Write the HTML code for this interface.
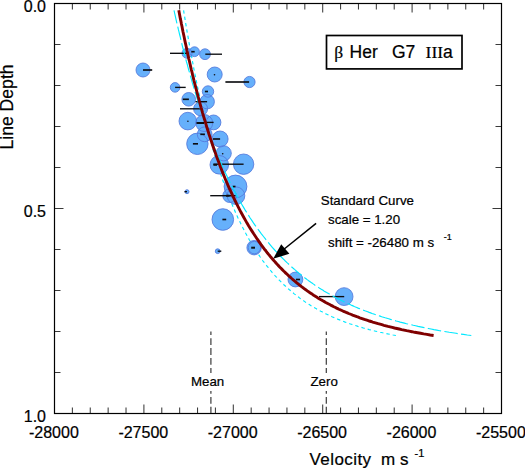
<!DOCTYPE html>
<html><head><meta charset="utf-8"><style>
html,body{margin:0;padding:0;background:#fff;}
svg{display:block;}
text{font-family:"Liberation Sans",sans-serif;fill:#000;stroke:#000;stroke-width:0.22px;}
</style></head><body>
<svg width="525" height="469" viewBox="0 0 525 469">
<rect width="525" height="469" fill="#fff"/>
<path d="M183.6,10.3 L184.0,13.0 L184.5,15.7 L184.9,18.4 L185.3,21.1 L185.8,23.8 L186.2,26.5 L186.7,29.2 L187.1,31.8 L187.6,34.5 L188.1,37.2 L188.5,39.9 L189.0,42.6 L189.5,45.3 L190.0,48.0 L190.5,50.7 L191.0,53.4 L191.5,56.1 L192.0,58.8 L192.5,61.5 L193.0,64.2 L193.5,66.9 L194.0,69.6 L194.6,72.2 L195.1,74.9 L195.7,77.6 L196.2,80.3 L196.8,83.0 L197.3,85.7 L197.9,88.4 L198.5,91.1 L199.1,93.8 L199.7,96.5 L200.3,99.2 L200.9,101.9 L201.5,104.6 L202.1,107.3 L202.7,110.0 L203.4,112.6 L204.0,115.3 L204.7,118.0 L205.3,120.7 L206.0,123.4 L206.7,126.1 L207.4,128.8 L208.1,131.5 L208.8,134.2 L209.5,136.9 L210.2,139.6 L211.0,142.3 L211.7,145.0 L212.5,147.7 L213.3,150.3 L214.1,153.0 L214.9,155.7 L215.7,158.4 L216.5,161.1 L217.4,163.8 L218.2,166.5 L219.1,169.2 L220.0,171.9 L220.9,174.6 L221.8,177.3 L222.7,180.0 L223.7,182.7 L224.6,185.4 L225.6,188.1 L226.6,190.7 L227.6,193.4 L228.7,196.1 L229.8,198.8 L230.8,201.5 L232.0,204.2 L233.1,206.9 L234.3,209.6 L235.4,212.3 L236.7,215.0 L237.9,217.7 L239.2,220.4 L240.5,223.1 L241.8,225.8 L243.2,228.5 L244.6,231.1 L246.0,233.8 L247.5,236.5 L249.0,239.2 L250.6,241.9 L252.2,244.6 L253.8,247.3 L255.6,250.0 L255.9,250.5 L256.2,251.1 L256.6,251.6 L257.0,252.2 L257.3,252.7 L257.7,253.2 L258.0,253.8 L258.4,254.3 L258.8,254.8 L259.1,255.4 L259.5,255.9 L259.9,256.5 L260.2,257.0 L260.6,257.5 L261.0,258.1 L261.4,258.6 L261.8,259.1 L262.2,259.7 L262.5,260.2 L262.9,260.8 L263.3,261.3 L263.7,261.8 L264.1,262.4 L264.5,262.9 L264.9,263.4 L265.4,264.0 L265.8,264.5 L266.2,265.1 L266.6,265.6 L267.0,266.1 L267.4,266.7 L267.9,267.2 L268.3,267.7 L268.7,268.3 L269.2,268.8 L269.6,269.4 L270.1,269.9 L270.5,270.4 L271.0,271.0 L271.4,271.5 L271.9,272.0 L272.3,272.6 L272.8,273.1 L273.3,273.7 L273.8,274.2 L274.2,274.7 L274.7,275.3 L275.2,275.8 L275.7,276.3 L276.2,276.9 L276.7,277.4 L277.2,278.0 L277.7,278.5 L278.2,279.0 L278.7,279.6 L279.2,280.1 L279.8,280.7 L280.3,281.2 L280.8,281.7 L281.4,282.3 L281.9,282.8 L282.4,283.3 L283.0,283.9 L283.6,284.4 L284.1,285.0 L284.7,285.5 L285.3,286.0 L285.8,286.6 L286.4,287.1 L287.0,287.6 L287.6,288.2 L288.2,288.7 L288.8,289.3 L289.4,289.8 L290.1,290.3 L290.7,290.9 L291.3,291.4 L292.0,291.9 L292.6,292.5 L293.3,293.0 L293.9,293.6 L294.6,294.1 L295.3,294.6 L296.0,295.2 L296.7,295.7 L297.4,296.2 L298.1,296.8 L298.8,297.3 L299.5,297.9 L300.2,298.4 L301.0,298.9 L301.7,299.5 L302.5,300.0 L303.2,300.5 L304.0,301.1 L304.8,301.6 L305.6,302.2 L306.4,302.7 L307.2,303.2 L308.1,303.8 L308.9,304.3 L309.7,304.8 L310.6,305.4 L311.5,305.9 L312.4,306.5 L313.3,307.0 L314.2,307.5 L315.1,308.1 L316.0,308.6 L317.0,309.2 L318.0,309.7 L318.9,310.2 L319.9,310.8 L320.9,311.3 L322.0,311.8 L323.0,312.4 L324.1,312.9 L325.1,313.5 L326.2,314.0 L327.3,314.5 L328.5,315.1 L329.6,315.6 L330.8,316.1 L332.0,316.7 L333.2,317.2 L334.4,317.8 L335.7,318.3 L337.0,318.8 L338.3,319.4 L339.6,319.9 L340.9,320.4 L342.3,321.0 L343.7,321.5 L345.2,322.1 L346.7,322.6 L348.2,323.1 L349.7,323.7 L351.3,324.2 L352.9,324.7 L354.5,325.3 L356.2,325.8 L357.9,326.4 L359.7,326.9 L361.5,327.4 L363.4,328.0 L365.3,328.5 L367.2,329.0 L369.2,329.6 L371.3,330.1 L373.4,330.7 L375.6,331.2 L377.9,331.7 L380.2,332.3 L382.6,332.8 L385.1,333.3 L387.7,333.9 L390.3,334.4 L393.1,335.0 L395.9,335.5" fill="none" stroke="#00e8ff" stroke-width="1.15" stroke-dasharray="3.4 3.04"/>
<g fill="#66b0fb" stroke="none">
<circle cx="143" cy="70" r="7"/><circle cx="187" cy="53.3" r="5"/><circle cx="194.5" cy="51.7" r="4.9"/><circle cx="205" cy="54.2" r="5.4"/><circle cx="214.7" cy="74.5" r="7.5"/><circle cx="249.5" cy="82" r="5.6"/><circle cx="175.1" cy="87.4" r="4.8"/><circle cx="188.7" cy="99.3" r="6.8"/><circle cx="207.2" cy="101.7" r="7.2"/><circle cx="208" cy="91.5" r="5.7"/><circle cx="200.6" cy="108.8" r="7"/><circle cx="187.8" cy="121.1" r="8.8"/><circle cx="213.5" cy="122.4" r="7.4"/><circle cx="204.2" cy="123" r="8.5"/><circle cx="220.1" cy="139" r="8"/><circle cx="204.7" cy="134.3" r="7.4"/><circle cx="197.4" cy="143.8" r="10.7"/><circle cx="223.7" cy="153.3" r="7.6"/><circle cx="243.6" cy="164.2" r="10.2"/><circle cx="219.3" cy="164.8" r="9.3"/><circle cx="187" cy="191.7" r="2"/><circle cx="235.5" cy="186.5" r="11.4"/><circle cx="236" cy="195.7" r="8.8"/><circle cx="229.6" cy="195.7" r="6.8"/><circle cx="222.8" cy="219.5" r="10.8"/><circle cx="217.7" cy="251.2" r="2.4"/><circle cx="254.1" cy="247.7" r="7.2"/><circle cx="254.4" cy="247.6" r="6.2"/><circle cx="295.4" cy="279.5" r="7.4"/><circle cx="344.1" cy="296.6" r="8.9"/>
</g>
<g fill="none" stroke="#5478dc" stroke-width="0.85">
<circle cx="143" cy="70" r="7"/><circle cx="187" cy="53.3" r="5"/><circle cx="194.5" cy="51.7" r="4.9"/><circle cx="205" cy="54.2" r="5.4"/><circle cx="214.7" cy="74.5" r="7.5"/><circle cx="249.5" cy="82" r="5.6"/><circle cx="175.1" cy="87.4" r="4.8"/><circle cx="188.7" cy="99.3" r="6.8"/><circle cx="207.2" cy="101.7" r="7.2"/><circle cx="208" cy="91.5" r="5.7"/><circle cx="200.6" cy="108.8" r="7"/><circle cx="187.8" cy="121.1" r="8.8"/><circle cx="213.5" cy="122.4" r="7.4"/><circle cx="204.2" cy="123" r="8.5"/><circle cx="220.1" cy="139" r="8"/><circle cx="204.7" cy="134.3" r="7.4"/><circle cx="197.4" cy="143.8" r="10.7"/><circle cx="223.7" cy="153.3" r="7.6"/><circle cx="243.6" cy="164.2" r="10.2"/><circle cx="219.3" cy="164.8" r="9.3"/><circle cx="187" cy="191.7" r="2"/><circle cx="235.5" cy="186.5" r="11.4"/><circle cx="236" cy="195.7" r="8.8"/><circle cx="229.6" cy="195.7" r="6.8"/><circle cx="222.8" cy="219.5" r="10.8"/><circle cx="217.7" cy="251.2" r="2.4"/><circle cx="254.1" cy="247.7" r="7.2"/><circle cx="254.4" cy="247.6" r="6.2"/><circle cx="295.4" cy="279.5" r="7.4"/><circle cx="344.1" cy="296.6" r="8.9"/>
</g>
<g stroke="#0c0d10" stroke-linecap="butt">
<line x1="143" y1="70" x2="152.2" y2="70" stroke-width="1.65"/><line x1="170" y1="53.3" x2="187" y2="53.3" stroke-width="1.35"/><line x1="191.3" y1="51.7" x2="194.7" y2="51.7" stroke-width="1.65"/><line x1="205.3" y1="54.2" x2="222" y2="54.2" stroke-width="1.35"/><line x1="225.4" y1="82" x2="249.1" y2="82" stroke-width="1.65"/><line x1="175.1" y1="87.4" x2="185.7" y2="87.4" stroke-width="1.35"/><line x1="182.8" y1="99.3" x2="188.9" y2="99.3" stroke-width="1.65"/><line x1="195.4" y1="101.7" x2="207.1" y2="101.7" stroke-width="1.35"/><line x1="204.9" y1="91.5" x2="208" y2="91.5" stroke-width="1.65"/><line x1="180" y1="108.8" x2="200.3" y2="108.8" stroke-width="1.35"/><line x1="204.1" y1="122.4" x2="213.6" y2="122.4" stroke-width="1.35"/><line x1="196.5" y1="123" x2="204.1" y2="123" stroke-width="2.00"/><line x1="212.9" y1="139" x2="220.1" y2="139" stroke-width="1.65"/><line x1="200.3" y1="134.3" x2="204.9" y2="134.3" stroke-width="1.65"/><line x1="192.9" y1="143.8" x2="198" y2="143.8" stroke-width="1.65"/><line x1="213.4" y1="164.2" x2="243.6" y2="164.2" stroke-width="1.35"/><line x1="213.4" y1="164.8" x2="217" y2="164.8" stroke-width="2.00"/><line x1="184.5" y1="191.7" x2="187" y2="191.7" stroke-width="1.35"/><line x1="232.6" y1="186.5" x2="235.5" y2="186.5" stroke-width="1.65"/><line x1="210.2" y1="195.7" x2="235.5" y2="195.7" stroke-width="1.35"/><line x1="226" y1="195.7" x2="229.6" y2="195.7" stroke-width="2.00"/><line x1="222.4" y1="219.5" x2="226.2" y2="219.5" stroke-width="1.65"/><line x1="217.7" y1="251.2" x2="221.3" y2="251.2" stroke-width="1.35"/><line x1="251.2" y1="247.7" x2="255" y2="247.7" stroke-width="2.00"/><line x1="296" y1="279.5" x2="300" y2="279.5" stroke-width="1.65"/><line x1="319" y1="296.6" x2="344.2" y2="296.6" stroke-width="1.35"/><circle cx="214.5" cy="74.7" r="0.8" fill="#111" stroke="none"/><circle cx="187.9" cy="121.2" r="0.8" fill="#111" stroke="none"/><circle cx="222.7" cy="153.7" r="0.8" fill="#111" stroke="none"/>
</g>
<path d="M174.0,10.3 L174.6,13.0 L175.2,15.7 L175.8,18.4 L176.4,21.1 L177.0,23.8 L177.7,26.5 L178.3,29.2 L179.0,31.8 L179.6,34.5 L180.3,37.2 L180.9,39.9 L181.6,42.6 L182.2,45.3 L182.9,48.0 L183.6,50.7 L184.3,53.4 L185.0,56.1 L185.7,58.8 L186.4,61.5 L187.2,64.2 L187.9,66.9 L188.6,69.6 L189.4,72.2 L190.1,74.9 L190.9,77.6 L191.7,80.3 L192.4,83.0 L193.2,85.7 L194.0,88.4 L194.8,91.1 L195.7,93.8 L196.5,96.5 L197.3,99.2 L198.2,101.9 L199.0,104.6 L199.9,107.3 L200.8,110.0 L201.7,112.6 L202.6,115.3 L203.5,118.0 L204.4,120.7 L205.4,123.4 L206.3,126.1 L207.3,128.8 L208.3,131.5 L209.3,134.2 L210.3,136.9 L211.3,139.6 L212.3,142.3 L213.4,145.0 L214.5,147.7 L215.6,150.3 L216.7,153.0 L217.8,155.7 L218.9,158.4 L220.1,161.1 L221.3,163.8 L222.5,166.5 L223.7,169.2 L224.9,171.9 L226.2,174.6 L227.5,177.3 L228.8,180.0 L230.1,182.7 L231.4,185.4 L232.8,188.1 L234.2,190.7 L235.7,193.4 L237.1,196.1 L238.6,198.8 L240.1,201.5 L241.7,204.2 L243.3,206.9 L244.9,209.6 L246.6,212.3 L248.3,215.0 L250.0,217.7 L251.8,220.4 L253.6,223.1 L255.5,225.8 L257.4,228.5 L259.4,231.1 L261.4,233.8 L263.5,236.5 L265.6,239.2 L267.8,241.9 L270.0,244.6 L272.3,247.3 L274.7,250.0 L275.2,250.5 L275.7,251.1 L276.2,251.6 L276.7,252.2 L277.2,252.7 L277.7,253.2 L278.2,253.8 L278.7,254.3 L279.2,254.8 L279.7,255.4 L280.2,255.9 L280.8,256.5 L281.3,257.0 L281.8,257.5 L282.4,258.1 L282.9,258.6 L283.4,259.1 L284.0,259.7 L284.5,260.2 L285.1,260.8 L285.6,261.3 L286.2,261.8 L286.7,262.4 L287.3,262.9 L287.9,263.4 L288.5,264.0 L289.0,264.5 L289.6,265.1 L290.2,265.6 L290.8,266.1 L291.4,266.7 L292.0,267.2 L292.6,267.7 L293.2,268.3 L293.8,268.8 L294.4,269.4 L295.1,269.9 L295.7,270.4 L296.3,271.0 L296.9,271.5 L297.6,272.0 L298.2,272.6 L298.9,273.1 L299.5,273.7 L300.2,274.2 L300.9,274.7 L301.6,275.3 L302.2,275.8 L302.9,276.3 L303.6,276.9 L304.3,277.4 L305.0,278.0 L305.7,278.5 L306.4,279.0 L307.2,279.6 L307.9,280.1 L308.6,280.7 L309.4,281.2 L310.1,281.7 L310.9,282.3 L311.6,282.8 L312.4,283.3 L313.2,283.9 L313.9,284.4 L314.7,285.0 L315.5,285.5 L316.3,286.0 L317.1,286.6 L318.0,287.1 L318.8,287.6 L319.6,288.2 L320.5,288.7 L321.3,289.3 L322.2,289.8 L323.1,290.3 L323.9,290.9 L324.8,291.4 L325.7,291.9 L326.6,292.5 L327.5,293.0 L328.5,293.6 L329.4,294.1 L330.3,294.6 L331.3,295.2 L332.3,295.7 L333.3,296.2 L334.2,296.8 L335.2,297.3 L336.3,297.9 L337.3,298.4 L338.3,298.9 L339.4,299.5 L340.4,300.0 L341.5,300.5 L342.6,301.1 L343.7,301.6 L344.8,302.2 L345.9,302.7 L347.1,303.2 L348.2,303.8 L349.4,304.3 L350.6,304.8 L351.8,305.4 L353.0,305.9 L354.3,306.5 L355.5,307.0 L356.8,307.5 L358.1,308.1 L359.4,308.6 L360.7,309.2 L362.1,309.7 L363.5,310.2 L364.9,310.8 L366.3,311.3 L367.7,311.8 L369.2,312.4 L370.6,312.9 L372.1,313.5 L373.7,314.0 L375.2,314.5 L376.8,315.1 L378.4,315.6 L380.1,316.1 L381.7,316.7 L383.4,317.2 L385.2,317.8 L386.9,318.3 L388.7,318.8 L390.5,319.4 L392.4,319.9 L394.3,320.4 L396.2,321.0 L398.2,321.5 L400.2,322.1 L402.3,322.6 L404.4,323.1 L406.5,323.7 L408.7,324.2 L411.0,324.7 L413.3,325.3 L415.6,325.8 L418.1,326.4 L420.5,326.9 L423.1,327.4 L425.7,328.0 L428.3,328.5 L431.1,329.0 L433.9,329.6 L436.8,330.1 L439.8,330.7 L442.8,331.2 L446.0,331.7 L449.3,332.3 L452.6,332.8 L456.1,333.3 L459.7,333.9 L463.4,334.4 L467.3,335.0 L471.3,335.5" fill="none" stroke="#00e8ff" stroke-width="1.15" stroke-dasharray="13.5 3.35"/>
<path d="M178.8,10.3 L179.3,13.0 L179.8,15.7 L180.3,18.4 L180.9,21.1 L181.4,23.8 L182.0,26.5 L182.5,29.2 L183.0,31.8 L183.6,34.5 L184.2,37.2 L184.7,39.9 L185.3,42.6 L185.9,45.3 L186.5,48.0 L187.0,50.7 L187.6,53.4 L188.2,56.1 L188.8,58.8 L189.5,61.5 L190.1,64.2 L190.7,66.9 L191.3,69.6 L192.0,72.2 L192.6,74.9 L193.3,77.6 L193.9,80.3 L194.6,83.0 L195.3,85.7 L196.0,88.4 L196.7,91.1 L197.4,93.8 L198.1,96.5 L198.8,99.2 L199.5,101.9 L200.3,104.6 L201.0,107.3 L201.8,110.0 L202.5,112.6 L203.3,115.3 L204.1,118.0 L204.9,120.7 L205.7,123.4 L206.5,126.1 L207.3,128.8 L208.2,131.5 L209.0,134.2 L209.9,136.9 L210.8,139.6 L211.7,142.3 L212.6,145.0 L213.5,147.7 L214.4,150.3 L215.4,153.0 L216.3,155.7 L217.3,158.4 L218.3,161.1 L219.3,163.8 L220.3,166.5 L221.4,169.2 L222.4,171.9 L223.5,174.6 L224.6,177.3 L225.7,180.0 L226.9,182.7 L228.0,185.4 L229.2,188.1 L230.4,190.7 L231.7,193.4 L232.9,196.1 L234.2,198.8 L235.5,201.5 L236.8,204.2 L238.2,206.9 L239.6,209.6 L241.0,212.3 L242.5,215.0 L244.0,217.7 L245.5,220.4 L247.0,223.1 L248.6,225.8 L250.3,228.5 L252.0,231.1 L253.7,233.8 L255.5,236.5 L257.3,239.2 L259.2,241.9 L261.1,244.6 L263.1,247.3 L265.1,250.0 L265.6,250.5 L266.0,251.1 L266.4,251.6 L266.8,252.2 L267.2,252.7 L267.7,253.2 L268.1,253.8 L268.5,254.3 L269.0,254.8 L269.4,255.4 L269.9,255.9 L270.3,256.5 L270.8,257.0 L271.2,257.5 L271.7,258.1 L272.1,258.6 L272.6,259.1 L273.1,259.7 L273.5,260.2 L274.0,260.8 L274.5,261.3 L275.0,261.8 L275.4,262.4 L275.9,262.9 L276.4,263.4 L276.9,264.0 L277.4,264.5 L277.9,265.1 L278.4,265.6 L278.9,266.1 L279.4,266.7 L279.9,267.2 L280.4,267.7 L281.0,268.3 L281.5,268.8 L282.0,269.4 L282.6,269.9 L283.1,270.4 L283.6,271.0 L284.2,271.5 L284.7,272.0 L285.3,272.6 L285.8,273.1 L286.4,273.7 L287.0,274.2 L287.6,274.7 L288.1,275.3 L288.7,275.8 L289.3,276.3 L289.9,276.9 L290.5,277.4 L291.1,278.0 L291.7,278.5 L292.3,279.0 L292.9,279.6 L293.6,280.1 L294.2,280.7 L294.8,281.2 L295.5,281.7 L296.1,282.3 L296.8,282.8 L297.4,283.3 L298.1,283.9 L298.7,284.4 L299.4,285.0 L300.1,285.5 L300.8,286.0 L301.5,286.6 L302.2,287.1 L302.9,287.6 L303.6,288.2 L304.3,288.7 L305.1,289.3 L305.8,289.8 L306.6,290.3 L307.3,290.9 L308.1,291.4 L308.8,291.9 L309.6,292.5 L310.4,293.0 L311.2,293.6 L312.0,294.1 L312.8,294.6 L313.6,295.2 L314.5,295.7 L315.3,296.2 L316.2,296.8 L317.0,297.3 L317.9,297.9 L318.8,298.4 L319.6,298.9 L320.5,299.5 L321.5,300.0 L322.4,300.5 L323.3,301.1 L324.3,301.6 L325.2,302.2 L326.2,302.7 L327.2,303.2 L328.2,303.8 L329.2,304.3 L330.2,304.8 L331.2,305.4 L332.3,305.9 L333.3,306.5 L334.4,307.0 L335.5,307.5 L336.6,308.1 L337.7,308.6 L338.9,309.2 L340.0,309.7 L341.2,310.2 L342.4,310.8 L343.6,311.3 L344.8,311.8 L346.1,312.4 L347.4,312.9 L348.6,313.5 L350.0,314.0 L351.3,314.5 L352.6,315.1 L354.0,315.6 L355.4,316.1 L356.9,316.7 L358.3,317.2 L359.8,317.8 L361.3,318.3 L362.8,318.8 L364.4,319.4 L366.0,319.9 L367.6,320.4 L369.3,321.0 L371.0,321.5 L372.7,322.1 L374.5,322.6 L376.3,323.1 L378.1,323.7 L380.0,324.2 L381.9,324.7 L383.9,325.3 L385.9,325.8 L388.0,326.4 L390.1,326.9 L392.3,327.4 L394.5,328.0 L396.8,328.5 L399.2,329.0 L401.6,329.6 L404.1,330.1 L406.6,330.7 L409.2,331.2 L411.9,331.7 L414.7,332.3 L417.6,332.8 L420.6,333.3 L423.7,333.9 L426.9,334.4 L430.2,335.0 L433.6,335.5" fill="none" stroke="#800000" stroke-width="2.9"/>
<g stroke="#3a3a3a" stroke-width="1.05">
<line x1="54.50" y1="413.5" x2="54.50" y2="404.5"/><line x1="54.50" y1="3.5" x2="54.50" y2="12.5"/><line x1="72.38" y1="413.5" x2="72.38" y2="407.5"/><line x1="72.38" y1="3.5" x2="72.38" y2="9.5"/><line x1="90.26" y1="413.5" x2="90.26" y2="407.5"/><line x1="90.26" y1="3.5" x2="90.26" y2="9.5"/><line x1="108.14" y1="413.5" x2="108.14" y2="407.5"/><line x1="108.14" y1="3.5" x2="108.14" y2="9.5"/><line x1="126.02" y1="413.5" x2="126.02" y2="407.5"/><line x1="126.02" y1="3.5" x2="126.02" y2="9.5"/><line x1="143.90" y1="413.5" x2="143.90" y2="404.5"/><line x1="143.90" y1="3.5" x2="143.90" y2="12.5"/><line x1="161.78" y1="413.5" x2="161.78" y2="407.5"/><line x1="161.78" y1="3.5" x2="161.78" y2="9.5"/><line x1="179.66" y1="413.5" x2="179.66" y2="407.5"/><line x1="179.66" y1="3.5" x2="179.66" y2="9.5"/><line x1="197.54" y1="413.5" x2="197.54" y2="407.5"/><line x1="197.54" y1="3.5" x2="197.54" y2="9.5"/><line x1="215.42" y1="413.5" x2="215.42" y2="407.5"/><line x1="215.42" y1="3.5" x2="215.42" y2="9.5"/><line x1="233.30" y1="413.5" x2="233.30" y2="404.5"/><line x1="233.30" y1="3.5" x2="233.30" y2="12.5"/><line x1="251.18" y1="413.5" x2="251.18" y2="407.5"/><line x1="251.18" y1="3.5" x2="251.18" y2="9.5"/><line x1="269.06" y1="413.5" x2="269.06" y2="407.5"/><line x1="269.06" y1="3.5" x2="269.06" y2="9.5"/><line x1="286.94" y1="413.5" x2="286.94" y2="407.5"/><line x1="286.94" y1="3.5" x2="286.94" y2="9.5"/><line x1="304.82" y1="413.5" x2="304.82" y2="407.5"/><line x1="304.82" y1="3.5" x2="304.82" y2="9.5"/><line x1="322.70" y1="413.5" x2="322.70" y2="404.5"/><line x1="322.70" y1="3.5" x2="322.70" y2="12.5"/><line x1="340.58" y1="413.5" x2="340.58" y2="407.5"/><line x1="340.58" y1="3.5" x2="340.58" y2="9.5"/><line x1="358.46" y1="413.5" x2="358.46" y2="407.5"/><line x1="358.46" y1="3.5" x2="358.46" y2="9.5"/><line x1="376.34" y1="413.5" x2="376.34" y2="407.5"/><line x1="376.34" y1="3.5" x2="376.34" y2="9.5"/><line x1="394.22" y1="413.5" x2="394.22" y2="407.5"/><line x1="394.22" y1="3.5" x2="394.22" y2="9.5"/><line x1="412.10" y1="413.5" x2="412.10" y2="404.5"/><line x1="412.10" y1="3.5" x2="412.10" y2="12.5"/><line x1="429.98" y1="413.5" x2="429.98" y2="407.5"/><line x1="429.98" y1="3.5" x2="429.98" y2="9.5"/><line x1="447.86" y1="413.5" x2="447.86" y2="407.5"/><line x1="447.86" y1="3.5" x2="447.86" y2="9.5"/><line x1="465.74" y1="413.5" x2="465.74" y2="407.5"/><line x1="465.74" y1="3.5" x2="465.74" y2="9.5"/><line x1="483.62" y1="413.5" x2="483.62" y2="407.5"/><line x1="483.62" y1="3.5" x2="483.62" y2="9.5"/><line x1="501.50" y1="413.5" x2="501.50" y2="404.5"/><line x1="501.50" y1="3.5" x2="501.50" y2="12.5"/><line x1="54.5" y1="3.50" x2="63.5" y2="3.50"/><line x1="501.5" y1="3.50" x2="492.5" y2="3.50"/><line x1="54.5" y1="44.50" x2="60.5" y2="44.50"/><line x1="501.5" y1="44.50" x2="495.5" y2="44.50"/><line x1="54.5" y1="85.50" x2="60.5" y2="85.50"/><line x1="501.5" y1="85.50" x2="495.5" y2="85.50"/><line x1="54.5" y1="126.50" x2="60.5" y2="126.50"/><line x1="501.5" y1="126.50" x2="495.5" y2="126.50"/><line x1="54.5" y1="167.50" x2="60.5" y2="167.50"/><line x1="501.5" y1="167.50" x2="495.5" y2="167.50"/><line x1="54.5" y1="208.50" x2="63.5" y2="208.50"/><line x1="501.5" y1="208.50" x2="492.5" y2="208.50"/><line x1="54.5" y1="249.50" x2="60.5" y2="249.50"/><line x1="501.5" y1="249.50" x2="495.5" y2="249.50"/><line x1="54.5" y1="290.50" x2="60.5" y2="290.50"/><line x1="501.5" y1="290.50" x2="495.5" y2="290.50"/><line x1="54.5" y1="331.50" x2="60.5" y2="331.50"/><line x1="501.5" y1="331.50" x2="495.5" y2="331.50"/><line x1="54.5" y1="372.50" x2="60.5" y2="372.50"/><line x1="501.5" y1="372.50" x2="495.5" y2="372.50"/><line x1="54.5" y1="413.50" x2="63.5" y2="413.50"/><line x1="501.5" y1="413.50" x2="492.5" y2="413.50"/>
</g>
<rect x="54.5" y="3.5" width="447.0" height="410.0" fill="none" stroke="#000" stroke-width="1.2"/>
<g stroke="#3c3c3c" stroke-width="1.2" stroke-dasharray="6.8 3.1">
<line x1="210.9" y1="331.4" x2="210.9" y2="373" stroke-dashoffset="3.1"/>
<line x1="210.9" y1="391.1" x2="210.9" y2="413" stroke-dashoffset="4.1"/>
<line x1="326.3" y1="331.4" x2="326.3" y2="373" stroke-dashoffset="3.1"/>
<line x1="326.3" y1="391.1" x2="326.3" y2="413" stroke-dashoffset="4.1"/>
</g>
<g font-size="16">
<text x="46" y="11.8" text-anchor="end">0.0</text>
<text x="46" y="217.2" text-anchor="end">0.5</text>
<text x="46" y="421.8" text-anchor="end">1.0</text>
<text x="53.90" y="437.6" text-anchor="middle">-28000</text><text x="143.30" y="437.6" text-anchor="middle">-27500</text><text x="232.70" y="437.6" text-anchor="middle">-27000</text><text x="322.10" y="437.6" text-anchor="middle">-26500</text><text x="411.50" y="437.6" text-anchor="middle">-26000</text><text x="500.90" y="437.6" text-anchor="middle">-25500</text>
</g>
<text font-size="17.6" transform="translate(12.8,107) rotate(-90)" text-anchor="middle">Line Depth</text>
<text font-size="17" x="309.5" y="465" letter-spacing="0.43">Velocity</text>
<text font-size="17" x="381" y="465">m s</text>
<text font-size="11" x="414.5" y="457">-1</text>
<rect x="326.5" y="35.5" width="135.5" height="33.4" fill="none" stroke="#000" stroke-width="1.7"/>
<text font-size="17.5" x="334.3" y="57.6" font-family="Liberation Serif" style="font-family:&quot;Liberation Serif&quot;,serif">β</text>
<text font-size="17.5" x="349.6" y="57.6">Her</text>
<text font-size="17.5" x="391.9" y="57.6">G7</text>
<text font-size="17.5" x="425.6" y="57.6"><tspan font-family="Liberation Serif">III</tspan>a</text>
<g font-size="13.3">
<text x="320.8" y="205.2">Standard Curve</text>
<text x="328" y="223.8">scale = 1.20</text>
<text x="328" y="246.5">shift = -26480 m s</text>
<text x="191" y="386.2">Mean</text>
<text x="310.5" y="386.2">Zero</text>
</g>
<text font-size="9" x="443.8" y="240.4">-1</text>
<line x1="316.1" y1="223.4" x2="283" y2="250" stroke="#000" stroke-width="1.5"/>
<polygon points="273.2,258.7 281.2,244.3 289.4,253.8" fill="#000"/>
</svg>
</body></html>
